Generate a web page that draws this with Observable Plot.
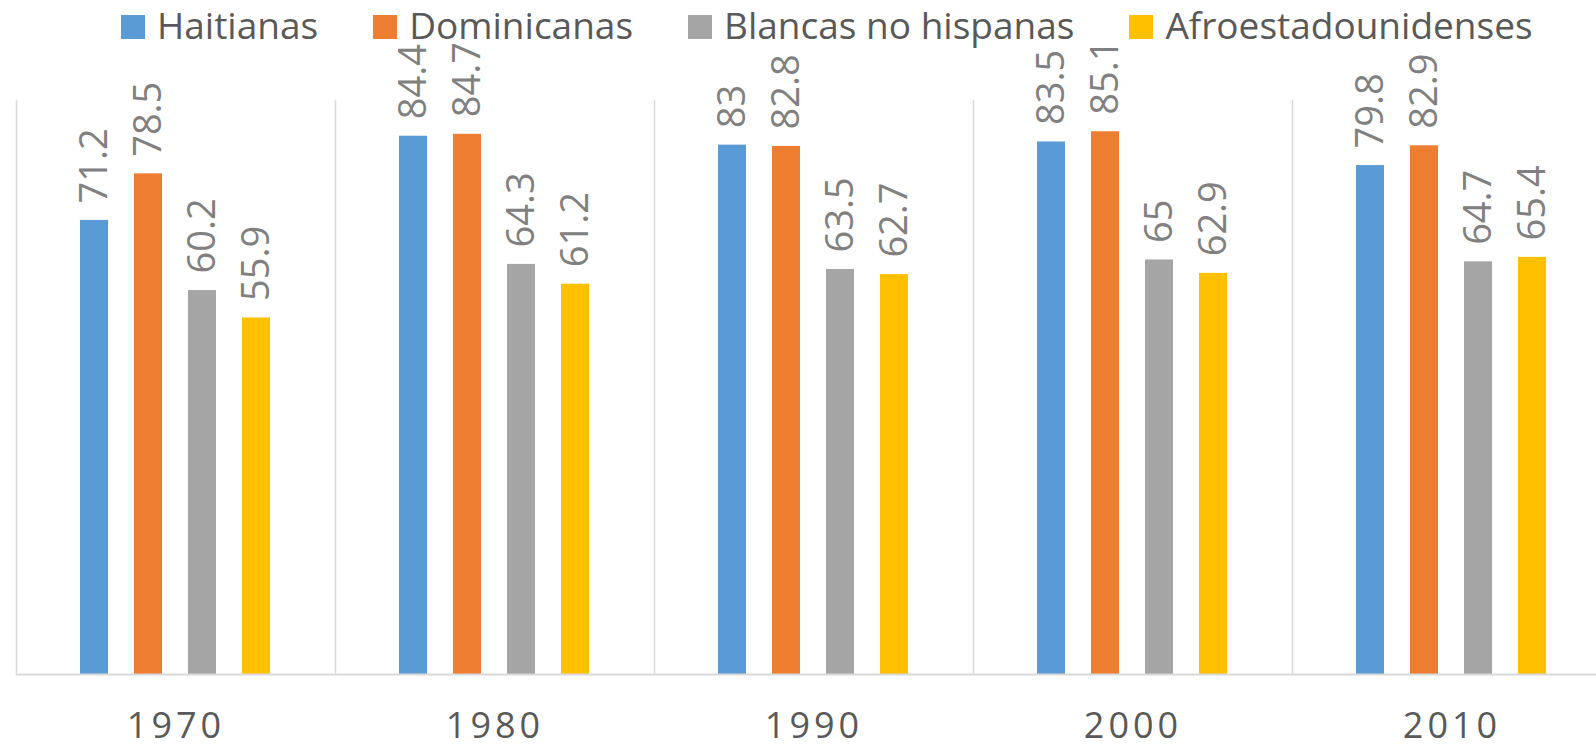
<!DOCTYPE html>
<html><head><meta charset="utf-8">
<script src="https://cdn.jsdelivr.net/npm/d3@7"></script>
<script src="https://cdn.jsdelivr.net/npm/@observablehq/plot@0.6"></script>
<style>
body{margin:0;background:#fff;overflow:hidden;font-family:"Open Sans",sans-serif;}
#legend{position:relative;height:60px;z-index:0}
#legend .items{position:absolute;left:121px;top:6px;display:flex;gap:55px;}
.item{display:flex;align-items:flex-start;gap:12px;font-size:37px;line-height:37px;color:#595959;white-space:nowrap}
.sw{width:24px;height:24px;margin-top:9px;flex:none}
#chart{position:relative;z-index:1}
#chart svg{overflow:visible}
#chart svg [aria-label="fx-axis tick label"] text{letter-spacing:4px}
</style></head><body>
<div id="legend"><div class="items"></div></div>
<div id="chart"></div>
<script>
const years = ["1970","1980","1990","2000","2010"];
const series = ["Haitianas","Dominicanas","Blancas no hispanas","Afroestadounidenses"];
const colors = ["#5b9bd5","#ed7d31","#a5a5a5","#ffc000"];
const haitianas = [71.2, 84.4, 83, 83.5, 79.8];
const dominicanas = [78.5, 84.7, 82.8, 85.1, 82.9];
const blancas = [60.2, 64.3, 63.5, 65, 64.7];
const afro = [55.9, 61.2, 62.7, 62.9, 65.4];

const valuesBySeries = [haitianas, dominicanas, blancas, afro];
const data = [];
years.forEach((y, i) => series.forEach((s, j) => data.push({year: y, series: s, value: valuesBySeries[j][i]})));

// legend
const items = document.querySelector("#legend .items");
series.forEach((s, i) => {
  const it = document.createElement("div"); it.className = "item";
  const sw = document.createElement("div"); sw.className = "sw"; sw.style.background = colors[i];
  const tx = document.createElement("span"); tx.textContent = s;
  it.appendChild(sw); it.appendChild(tx); items.appendChild(it);
});

const plot = Plot.plot({
  width: 1596, height: 688,
  marginLeft: 14, marginRight: -16, marginTop: 40, marginBottom: 74,
  fx: {domain: years, padding: 0, label: null},
  x: {domain: series, paddingInner: 0.473, paddingOuter: 1.174, axis: null},
  y: {domain: [0, 90], axis: null},
  color: {domain: series, range: colors},
  style: {fontFamily: "Open Sans", background: "transparent", color: "#595959", overflow: "visible"},
  marks: [
    Plot.frame({anchor: "left", stroke: "#d9d9d9", strokeWidth: 1.5}),
    Plot.barY(data, {fx: "year", x: "series", y: "value", fill: "series"}),
    Plot.ruleY([0], {stroke: "#d9d9d9", strokeWidth: 2}),
    Plot.text(data, {fx: "year", x: "series", y: "value", text: d => String(d.value), rotate: -90, textAnchor: "start", lineAnchor: "middle", dy: -17, fontSize: 38, fill: "#808080"}),
    Plot.axisFx({anchor: "bottom", tickSize: 0, tickPadding: 38, fontSize: 36, label: null, fill: "#595959"})
  ]
});
document.getElementById("chart").appendChild(plot);
</script>
</body></html>
